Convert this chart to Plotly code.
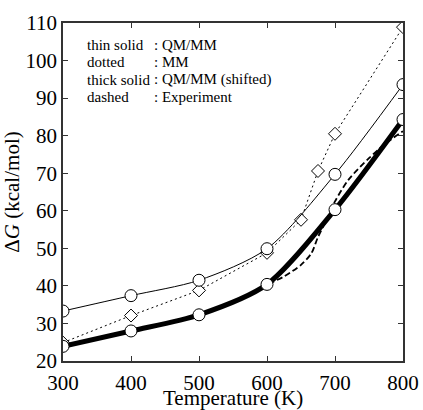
import plotly.graph_objects as go

temps = [300, 400, 500, 600, 700, 800]
qmmm = [33.3, 37.4, 41.5, 49.9, 69.7, 93.6]
qmmm_shifted = [23.9, 28.0, 32.3, 40.4, 60.3, 84.3]
mm_temps = [300, 400, 500, 600, 650, 675, 700, 800]
mm = [24.9, 32.1, 38.8, 48.8, 57.6, 70.6, 80.5, 108.9]
exp_temps = [300, 400, 500, 550, 600, 625, 650, 665, 675, 690, 700, 720, 750, 775, 800]
exp = [24.2, 27.8, 32.2, 35.5, 40.3, 42.5, 45.6, 48.6, 53.0, 58.5, 62.5, 68.3, 74.0, 78.0, 81.2]

legend_labels = ["thin solid", "dotted", "thick solid", "dashed"]
legend_desc = [": QM/MM", ": MM", ": QM/MM (shifted)", ": Experiment"]

FONT = "Liberation Serif"

fig = go.Figure()
fig.add_trace(go.Scatter(x=exp_temps, y=exp, mode="lines", line=dict(color="black", width=1.8, dash="6px,3px", shape="spline", smoothing=0.8), showlegend=False))
fig.add_trace(go.Scatter(x=mm_temps, y=mm, mode="lines+markers", line=dict(color="black", width=1, dash="2px,3px"),
                         marker=dict(symbol="diamond", size=10, color="white", line=dict(color="black", width=1)), showlegend=False))
fig.add_trace(go.Scatter(x=temps, y=qmmm, mode="lines+markers", line=dict(color="black", width=1, shape="spline", smoothing=0.8),
                         marker=dict(symbol="circle", size=12, color="white", line=dict(color="black", width=1)), showlegend=False))
fig.add_trace(go.Scatter(x=temps, y=qmmm_shifted, mode="lines+markers", line=dict(color="black", width=5, shape="spline", smoothing=0.8),
                         marker=dict(symbol="circle", size=12, color="white", line=dict(color="black", width=1)), showlegend=False))

for i, (lab, desc) in enumerate(zip(legend_labels, legend_desc)):
    ypx = 45 + i * 17.3
    yp = 1 - (ypx - 23) / 338
    fig.add_annotation(x=(85 - 63) / 340, y=yp, xref="paper", yref="paper", text=lab, showarrow=False,
                       xanchor="left", yanchor="middle", font=dict(family=FONT, size=15, color="black"))
    fig.add_annotation(x=(152 - 63) / 340, y=yp, xref="paper", yref="paper", text=desc, showarrow=False,
                       xanchor="left", yanchor="middle", font=dict(family=FONT, size=15, color="black"))

# x-axis title placed below the tick labels
fig.add_annotation(x=0.5, y=(361 - 398) / 338, xref="paper", yref="paper", text="Temperature (K)", showarrow=False,
                   xanchor="center", yanchor="middle", font=dict(family=FONT, size=21, color="black"))

axis_common = dict(showline=True, linecolor="#333", linewidth=1.5, mirror="ticks", ticks="inside", ticklen=5,
                   tickcolor="#333", showgrid=False, zeroline=False, automargin=False,
                   tickfont=dict(family=FONT, size=21, color="black"))
fig.update_xaxes(range=[300, 800], tickvals=[300, 400, 500, 600, 700, 800], ticklabelstandoff=2, **axis_common)
fig.update_yaxes(range=[20, 110], tickvals=list(range(20, 111, 10)),
                 title=dict(text="Δ<i>G</i> (kcal/mol)", font=dict(family=FONT, size=21, color="black"), standoff=2), **axis_common)

fig.update_layout(width=423, height=410, margin=dict(l=63, r=20, t=23, b=49), plot_bgcolor="white", paper_bgcolor="white",
                  font=dict(family=FONT))
fig.write_html("out.html")
